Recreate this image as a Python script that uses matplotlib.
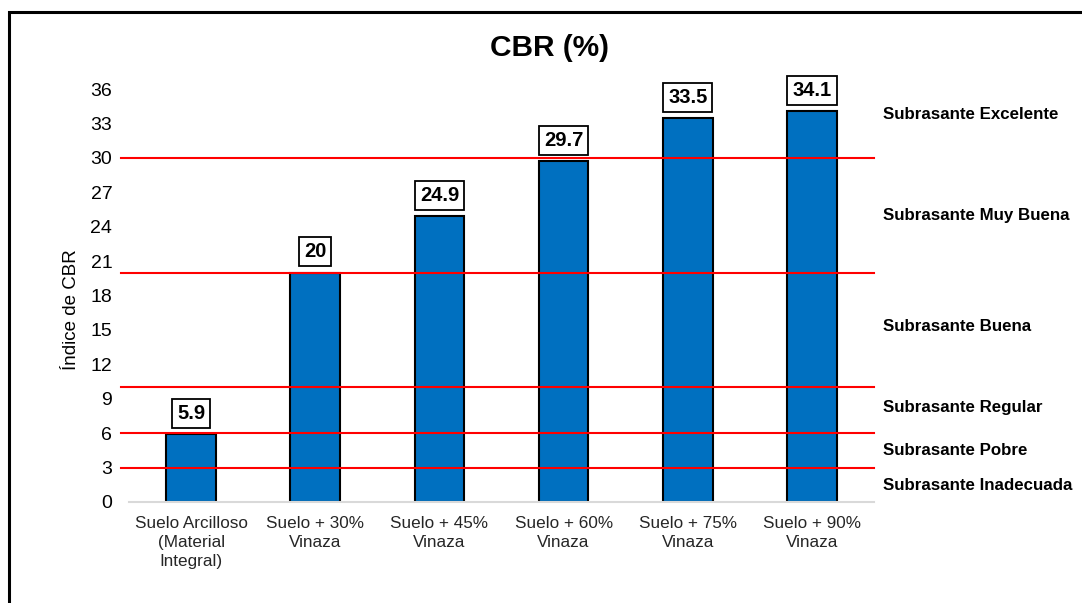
import matplotlib
matplotlib.use("Agg")
import matplotlib.pyplot as plt
from matplotlib.patches import Rectangle
import matplotlib.transforms as mtransforms

plt.rcParams['font.family'] = ['Liberation Sans', 'DejaVu Sans']

categories = ["Suelo Arcilloso\n(Material\nIntegral)", "Suelo + 30%\nVinaza",
              "Suelo + 45%\nVinaza", "Suelo + 60%\nVinaza",
              "Suelo + 75%\nVinaza", "Suelo + 90%\nVinaza"]
cbr_values = [5.9, 20, 24.9, 29.7, 33.5, 34.1]
value_labels = ["5.9", "20", "24.9", "29.7", "33.5", "34.1"]

limits = [3, 6, 10, 20, 30]
class_names = ["Subrasante Excelente", "Subrasante Muy Buena", "Subrasante Buena",
               "Subrasante Regular", "Subrasante Pobre", "Subrasante Inadecuada"]
class_y = [33.8, 25.0, 15.3, 8.2, 4.45, 1.4]
y_ticks = list(range(0, 37, 3))

fig = plt.figure(figsize=(10.82, 6.03), dpi=100)
ax = fig.add_axes([129/1082, 1 - 502/603, 745/1082, 413/603])

x = range(len(categories))
ax.bar(x, cbr_values, width=0.4, color="#0070C0", edgecolor="black",
       linewidth=1.5, zorder=2)

for xi, v, lab in zip(x, cbr_values, value_labels):
    ax.annotate(lab, (xi, v), xytext=(0, 8), textcoords="offset points",
                ha="center", va="bottom", fontsize=14.5, fontweight="bold",
                bbox=dict(boxstyle="square,pad=0.25", fc="white", ec="black", lw=1.3),
                zorder=4)

trans = mtransforms.blended_transform_factory(ax.transAxes, ax.transData)
for lim in limits:
    ax.plot([-0.011, 1.0], [lim, lim], color="#FF0000", lw=1.5,
            transform=trans, clip_on=False, zorder=3)

for name, yv in zip(class_names, class_y):
    ax.text(1.012, yv, name, transform=trans, ha="left", va="center",
            fontsize=12.2, fontweight="bold")

ax.set_xlim(-0.5, len(categories) - 0.5)
ax.set_ylim(0, 36)
ax.set_yticks(y_ticks)
ax.tick_params(axis="y", length=0, labelsize=14, pad=12)
ax.tick_params(axis="x", length=0, labelsize=12.3, pad=10)
ax.set_xticks(list(x))
ax.set_xticklabels(categories, color="#262626", linespacing=1.32)
for s in ["top", "right", "left"]:
    ax.spines[s].set_visible(False)
ax.spines["bottom"].set_color("#D9D9D9")
ax.spines["bottom"].set_linewidth(1.5)

ax.set_ylabel("Índice de CBR", fontsize=13.5)
ax.yaxis.set_label_coords(-0.066, 0.465)

fig.text(550/1082, 1 - 48/603, "CBR (%)", ha="center", va="center",
         fontsize=21.5, fontweight="bold")

fig.patches.append(Rectangle((9/1082, -0.1), 1.2, 1 - 12/603 + 0.1,
                             transform=fig.transFigure, fill=False,
                             ec="black", lw=2.2))

fig.savefig("out.png", dpi=100)
